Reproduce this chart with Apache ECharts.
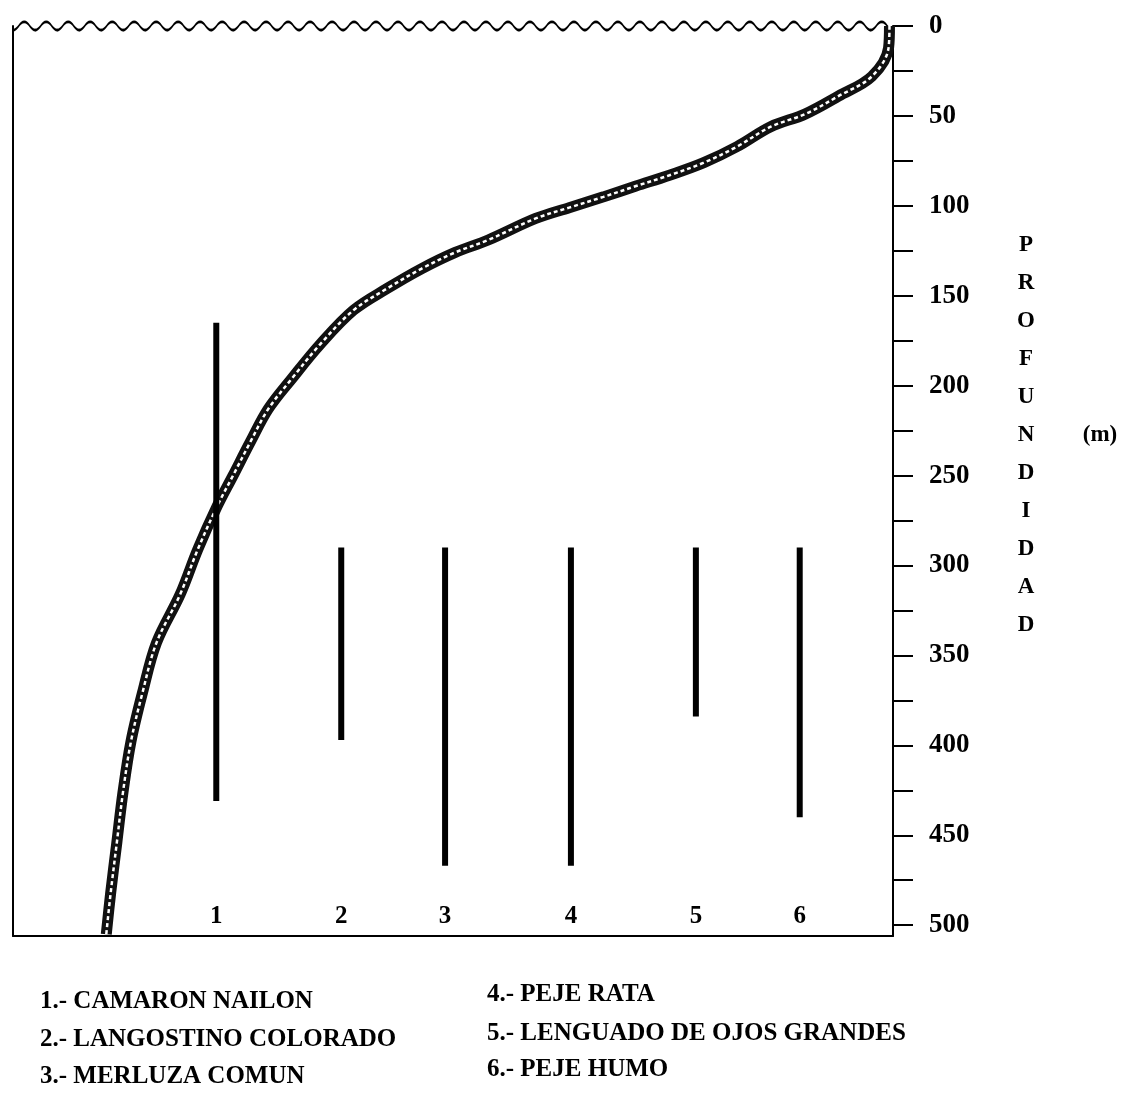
<!DOCTYPE html>
<html>
<head>
<meta charset="utf-8">
<script src="https://cdn.jsdelivr.net/npm/echarts@6/dist/echarts.min.js"></script>
<style>
html,body{margin:0;padding:0;background:#fff;}
#chart{width:1130px;height:1107px;}
</style>
</head>
<body>
<div id="chart"></div>
<script>
// ---- data ----
// bathymetric profile: horizontal distance (relative units 0-100) and depth (m)
const profileX = [99.6, 99.5, 97.6, 93.8, 90.0, 86.1, 82.3, 78.5, 74.6, 70.8, 67.1, 63.2, 59.4, 54.0, 50.2, 46.4, 42.5, 38.7, 34.9, 31.7, 29.0, 27.0, 25.0, 23.2, 21.0, 19.0, 16.3, 14.7, 13.4, 12.5, 11.8, 11.1, 10.6];
const profileDepth = [0, 12, 28, 39, 49, 56, 67, 76, 83, 89, 95, 101, 107, 119, 126, 135, 146, 158, 177, 196, 213, 231, 250, 267, 291, 316, 343, 371, 398, 426, 454, 482, 505];

// species bathymetric ranges
const speciesNum = ['1', '2', '3', '4', '5', '6'];
const speciesNames = ['CAMARON NAILON', 'LANGOSTINO COLORADO', 'MERLUZA COMUN', 'PEJE RATA', 'LENGUADO DE OJOS GRANDES', 'PEJE HUMO'];
const speciesX = [23.1, 37.3, 49.1, 63.4, 77.6, 89.4];
const depthMin = [165, 290, 290, 290, 290, 290];
const depthMax = [431, 397, 467, 467, 384, 440];

// sea surface extent (relative distance units)
const surfaceEnd = [100];

// axis ticks
const depthTicks = [0, 25, 50, 75, 100, 125, 150, 175, 200, 225, 250, 275, 300, 325, 350, 375, 400, 425, 450, 475, 500];
const depthLabels = [0, 50, 100, 150, 200, 250, 300, 350, 400, 450, 500];
const axisTitle = 'PROFUNDIDAD';
const axisUnit = '(m)';

// ---- chart ----
const SERIF = '"Liberation Serif", "DejaVu Serif", serif';
const chart = echarts.init(document.getElementById('chart'), null, {renderer: 'canvas'});

const profileData = profileX.map((x, i) => [x, profileDepth[i]]);
const rangeData = speciesX.map((x, i) => [x, depthMin[i], depthMax[i]]);

const legendItems = [];
const colX = [40, 487];
const rowY = [[1002, 1040, 1077], [995, 1034, 1070]];
speciesNames.forEach((name, i) => {
  const col = i < 3 ? 0 : 1;
  const row = i % 3;
  legendItems.push({
    type: 'text', x: colX[col], y: rowY[col][row],
    style: {text: speciesNum[i] + '.- ' + name, font: 'bold 25px ' + SERIF, fill: '#000',
            align: 'left', verticalAlign: 'middle'}
  });
});

const option = {
  backgroundColor: '#fff',
  animation: false,
  grid: [
    {left: 13, right: 237, top: 26, bottom: 171, containLabel: false},
    {left: 13, right: 237, top: 19, height: 14}
  ],
  xAxis: [
    {
      type: 'value', gridIndex: 0, min: 0, max: 100,
      splitLine: {show: false},
      axisLine: {show: true, onZero: false, lineStyle: {color: '#000', width: 2}},
      axisTick: {show: false},
      axisLabel: {
        inside: true, margin: 7,
        customValues: speciesX,
        formatter: v => { const k = speciesX.indexOf(v); return k >= 0 ? speciesNum[k] : ''; },
        color: '#000', fontFamily: SERIF, fontWeight: 'bold', fontSize: 25
      }
    },
    {type: 'value', gridIndex: 1, min: 0, max: 100, show: false}
  ],
  yAxis: [
    {
      type: 'value', gridIndex: 0, inverse: true, min: 0, max: 506, position: 'right',
      splitLine: {show: false},
      axisLine: {show: true, onZero: false, lineStyle: {color: '#000', width: 2}},
      axisTick: {show: true, inside: false, length: 20, customValues: depthTicks, lineStyle: {color: '#000', width: 2}},
      axisLabel: {
        customValues: depthLabels, margin: 36, color: '#000',
        fontFamily: SERIF, fontWeight: 'bold', fontSize: 27, align: 'left'
      }
    },
    {
      type: 'value', gridIndex: 0, inverse: true, min: 0, max: 506, position: 'left',
      splitLine: {show: false}, axisTick: {show: false}, axisLabel: {show: false},
      axisLine: {show: true, onZero: false, lineStyle: {color: '#000', width: 2}}
    },
    {type: 'category', gridIndex: 1, data: ['superficie'], show: false}
  ],
  graphic: [
    {
      type: 'text', x: 1026, y: 435,
      style: {
        text: axisTitle.split('').join('\n'), font: 'bold 23px ' + SERIF, fill: '#000',
        align: 'center', verticalAlign: 'middle', lineHeight: 38
      }
    },
    {
      type: 'text', x: 1100, y: 435,
      style: {text: axisUnit, font: 'bold 23px ' + SERIF, fill: '#000', align: 'center', verticalAlign: 'middle'}
    }
  ].concat(legendItems),
  series: [
    {
      type: 'pictorialBar', xAxisIndex: 1, yAxisIndex: 2,
      data: surfaceEnd,
      symbol: 'path://M0,7 C4,7 6,1 10,1 C14,1 16,7 20,7 L20,9 C16,9 14,3 10,3 C6,3 4,9 0,9 Z',
      symbolRepeat: true, symbolSize: [22.5, 11], symbolMargin: 0, symbolClip: true,
      symbolPosition: 'start', barWidth: 14,
      itemStyle: {color: '#000'},
      silent: true, z: 2
    },
    {
      name: 'perfil', type: 'line', data: profileData, smooth: 0.35, showSymbol: false,
      lineStyle: {color: '#111', width: 11}, z: 3
    },
    {
      name: 'perfil-textura', type: 'line', data: profileData, smooth: 0.35, showSymbol: false,
      lineStyle: {color: '#fff', width: 2.5, type: [4, 3]}, z: 4
    },
    {
      name: 'rangos', type: 'custom', data: rangeData, z: 5,
      encode: {x: 0, y: [1, 2]},
      renderItem: (params, api) => {
        const p1 = api.coord([api.value(0), api.value(1)]);
        const p2 = api.coord([api.value(0), api.value(2)]);
        return {
          type: 'line',
          shape: {x1: p1[0], y1: p1[1], x2: p2[0], y2: p2[1]},
          style: {stroke: '#000', lineWidth: 6}
        };
      }
    }
  ]
};
chart.setOption(option);
</script>
</body>
</html>
